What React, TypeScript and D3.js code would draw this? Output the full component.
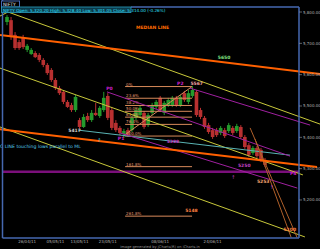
import React from "react";
import * as d3 from "d3";

const W = 320, H = 249;

// OHLC (index based daily candles)
const opens = [5768,5774,5727,5704,5717,5679,5666,5669,5663,5647,5631,5615,5583,5557,5545,5513,5503,5487,5455,5433,5468,5455,5478,5468,5487,5532,5487,5446,5430,5411,5423,5423,5462,5471,5478,5439,5478,5497,5526,5478,5503,5503,5526,5503,5541,5513,5532,5545,5487,5462,5439,5423,5423,5414,5423,5420,5430,5420,5433,5401,5375,5350,5366,5360,5328];
const highs = [5790,5784,5736,5711,5727,5698,5685,5675,5669,5653,5637,5621,5589,5564,5551,5519,5510,5535,5462,5474,5478,5487,5510,5500,5545,5541,5497,5455,5436,5427,5430,5468,5494,5500,5484,5478,5510,5519,5532,5516,5526,5532,5532,5535,5548,5551,5564,5551,5494,5468,5446,5430,5430,5436,5430,5446,5436,5443,5439,5407,5382,5372,5372,5366,5334];
const lows = [5758,5711,5679,5679,5682,5672,5663,5653,5640,5624,5599,5577,5551,5535,5506,5494,5481,5481,5427,5430,5449,5449,5468,5462,5481,5455,5423,5417,5407,5398,5401,5417,5455,5465,5427,5433,5471,5490,5481,5471,5497,5497,5497,5497,5513,5506,5526,5465,5458,5427,5411,5395,5401,5407,5398,5414,5407,5414,5395,5363,5337,5344,5334,5321,5305];
const closes = [5784,5720,5685,5685,5688,5692,5679,5656,5647,5631,5605,5583,5557,5541,5513,5497,5487,5529,5433,5465,5455,5478,5471,5494,5526,5462,5430,5423,5414,5420,5407,5462,5487,5494,5433,5471,5503,5513,5487,5510,5519,5526,5503,5529,5519,5541,5551,5471,5465,5433,5417,5401,5407,5430,5404,5439,5414,5436,5401,5369,5344,5366,5340,5328,5312];

// price axis
const priceTicks = [5800, 5700, 5600, 5500, 5400, 5300, 5200];
// date axis (candle index -> label)
const dateTickIdx = [5, 12, 18, 25, 38, 51];
const dateTickLabels = ["26/04/11", "05/05/11", "13/05/11", "23/05/11", "08/06/11", "24/06/11"];

// trend lines: [idx1, price1, idx2, price2]
const yellowLines = [
  [-1.74, 5787, 0.25, 5800],
  [0.25, 5800, 77.7, 5442],
  [-1.74, 5621, 73.4, 5280],
  [-1.74, 5433, 73.9, 5082],
];
const orangeLines = [
  [-1.74, 5727, 77.7, 5602],
  [-1.74, 5426, 76.9, 5305],
];
const tealLines = [[17.6, 5423, 70.2, 5343]];
const purpleLines = [
  [24.8, 5545, 70.2, 5340],
  [45.4, 5557, 75.2, 5439],
  [28.0, 5414, 72.0, 5238],
];
const brownLines = [
  [60.3, 5430, 72.0, 5079],
  [61.5, 5395, 70.5, 5080],
];
const purpleLevel = 5290;

// Fibonacci retracement from P1 (low) to P2 (high)
const fibHigh = 5562, fibLow = 5404;
const fibStartIdx = 29.3, fibEndIdx = 45.9;
const fibRatios = [0, 0.236, 0.382, 0.5, 0.618, 0.764, 1, 1.618, 2.618];
const fibLabels = ["0%", "23.6%", "38.2%", "50.0%", "61.8%", "76.4%", "100.0%", "161.8%", "261.8%"];

// annotations: [idx, price, text, color]
const notes = [
  [32, 5747, "MEDIAN LINE", "#ff6a00"],
  [52.3, 5650, "5650", "#80e080"],
  [24.6, 5552, "P0", "#d020d0"],
  [42.2, 5567, "P2", "#d020d0"],
  [45.5, 5567, "5567", "#f0a0a0"],
  [27.5, 5390, "P1", "#d020d0"],
  [15.2, 5417, "5417", "#d0d0d0"],
  [39.6, 5382, "5308", "#c040c0"],
  [57.3, 5305, "5250", "#c040c0"],
  [62.0, 5253, "5253", "#f0a070"],
  [70.2, 5280, "P4", "#d020d0"],
  [44.2, 5162, "5148", "#ff8040"],
  [68.6, 5100, "5100", "#ff8040"],
];

const x = d3.scaleLinear().domain([0, 64]).range([7, 265]);
const y = d3.scaleLinear().domain([5100, 5800]).range([231.3, 12]);
const fmt = d3.format(",.2f");

function seg(l: number[]) {
  return { x1: x(l[0]), y1: y(l[1]), x2: x(l[2]), y2: y(l[3]) };
}

export default function App() {
  const font = "DejaVu Sans, sans-serif";
  const axisColor = "#4668b0";
  const range = fibHigh - fibLow;
  return (
    <svg width={W} height={H} style={{ position: "fixed", left: 0, top: 0, background: "#000" }} fontFamily={font}>
      <rect x={0} y={0} width={W} height={H} fill="#000" />
      {/* candles */}
      {closes.map((c, i) => {
        const o = opens[i];
        const up = c >= o;
        const col = up ? "#249a2c" : "#b83030";
        const top = y(Math.max(o, c));
        const bot = y(Math.min(o, c));
        return (
          <g key={i}>
            <line x1={x(i)} x2={x(i)} y1={y(highs[i])} y2={y(lows[i])} stroke={col} strokeWidth={1} />
            <rect x={x(i) - 1.8} y={top} width={3.6} height={Math.max(1, bot - top)} fill={col} />
          </g>
        );
      })}
      {/* fib lines */}
      {fibRatios.map((r, i) => {
        const p = fibHigh - range * r;
        return (
          <g key={"f" + i}>
            <line x1={x(fibStartIdx)} x2={x(fibEndIdx)} y1={y(p)} y2={y(p)} stroke="#d88a5a" strokeWidth={1} />
            <text x={x(fibStartIdx) + 1} y={y(p) - 1} fontSize={4} fill="#e09a70">{fibLabels[i]}</text>
          </g>
        );
      })}
      <line x1={x(fibStartIdx - 0.5)} y1={y(fibLow)} x2={x(fibEndIdx)} y2={y(fibHigh)} stroke="#d88a5a" strokeWidth={1} />
      {/* purple level */}
      <line x1={3} x2={299} y1={y(purpleLevel)} y2={y(purpleLevel)} stroke="#7a0f7a" strokeWidth={2.5} />
      {yellowLines.map((l, i) => <line key={"y" + i} {...seg(l)} stroke="#c8c83a" strokeWidth={1} />)}
      {tealLines.map((l, i) => <line key={"t" + i} {...seg(l)} stroke="#5ab4b4" strokeWidth={1} />)}
      {purpleLines.map((l, i) => <line key={"p" + i} {...seg(l)} stroke="#a020a0" strokeWidth={1} />)}
      {brownLines.map((l, i) => <line key={"b" + i} {...seg(l)} stroke="#b0602a" strokeWidth={1} />)}
      {orangeLines.map((l, i) => <line key={"o" + i} {...seg(l)} stroke="#ff6000" strokeWidth={2} />)}
      {/* notes */}
      {notes.map((n, i) => (
        <text key={"n" + i} x={x(n[0] as number)} y={y(n[1] as number)} fontSize={4.5} fontWeight="bold" fill={n[3] as string}>{n[2] as string}</text>
      ))}
      <text x={0} y={148} fontSize={4.6} fill="#5ad0f0">C LINE touching lows parallel to ML</text>
      <text x={x(22.4)} y={y(5385)} fontSize={5} fill="#40d0e0">↑</text>
      <text x={x(55.6)} y={y(5268)} fontSize={5} fill="#c040c0">↑</text>
      <text x={x(65.2)} y={y(5235)} fontSize={5} fill="#c040c0">↑</text>
      {/* frame */}
      <line x1={2.5} x2={2.5} y1={0} y2={238} stroke={axisColor} strokeWidth={1.5} />
      <line x1={131} x2={299} y1={7} y2={7} stroke={axisColor} strokeWidth={1.5} />
      <line x1={299} x2={299} y1={7} y2={238} stroke={axisColor} strokeWidth={1.5} />
      <line x1={2.5} x2={299} y1={238} y2={238} stroke={axisColor} strokeWidth={1.5} />
      {priceTicks.map((p, i) => (
        <g key={"pt" + i}>
          <line x1={299} x2={302} y1={y(p)} y2={y(p)} stroke="#a0a0a0" strokeWidth={0.6} />
          <text x={303} y={y(p) + 1.5} fontSize={4} fill="#b0b0b0">{fmt(p)}</text>
        </g>
      ))}
      {dateTickIdx.map((d, i) => (
        <text key={"dt" + i} x={x(d)} y={243} fontSize={4} fill="#b0b0b0" textAnchor="middle">{dateTickLabels[i]}</text>
      ))}
      <text x={160} y={248} fontSize={3.6} fill="#909090" textAnchor="middle">Image generated by JCharts(R) on iCharts.in</text>
      {/* header */}
      <rect x={1.5} y={1} width={18} height={6} fill="#000" stroke={axisColor} strokeWidth={1} />
      <text x={3} y={6} fontSize={4.5} fill="#e0e0e0">NIFTY</text>
      <rect x={1.5} y={7} width={129.5} height={5.5} fill="#0b3a4a" stroke="#2aa0c0" strokeWidth={0.8} />
      <text x={3} y={11.5} fontSize={4.2} fill="#30e0ff">NIFTY Open: 5,320.20 High: 5,328.40 Low: 5,301.05 Close: 5,314.00 (-0.26%)</text>
    </svg>
  );
}
